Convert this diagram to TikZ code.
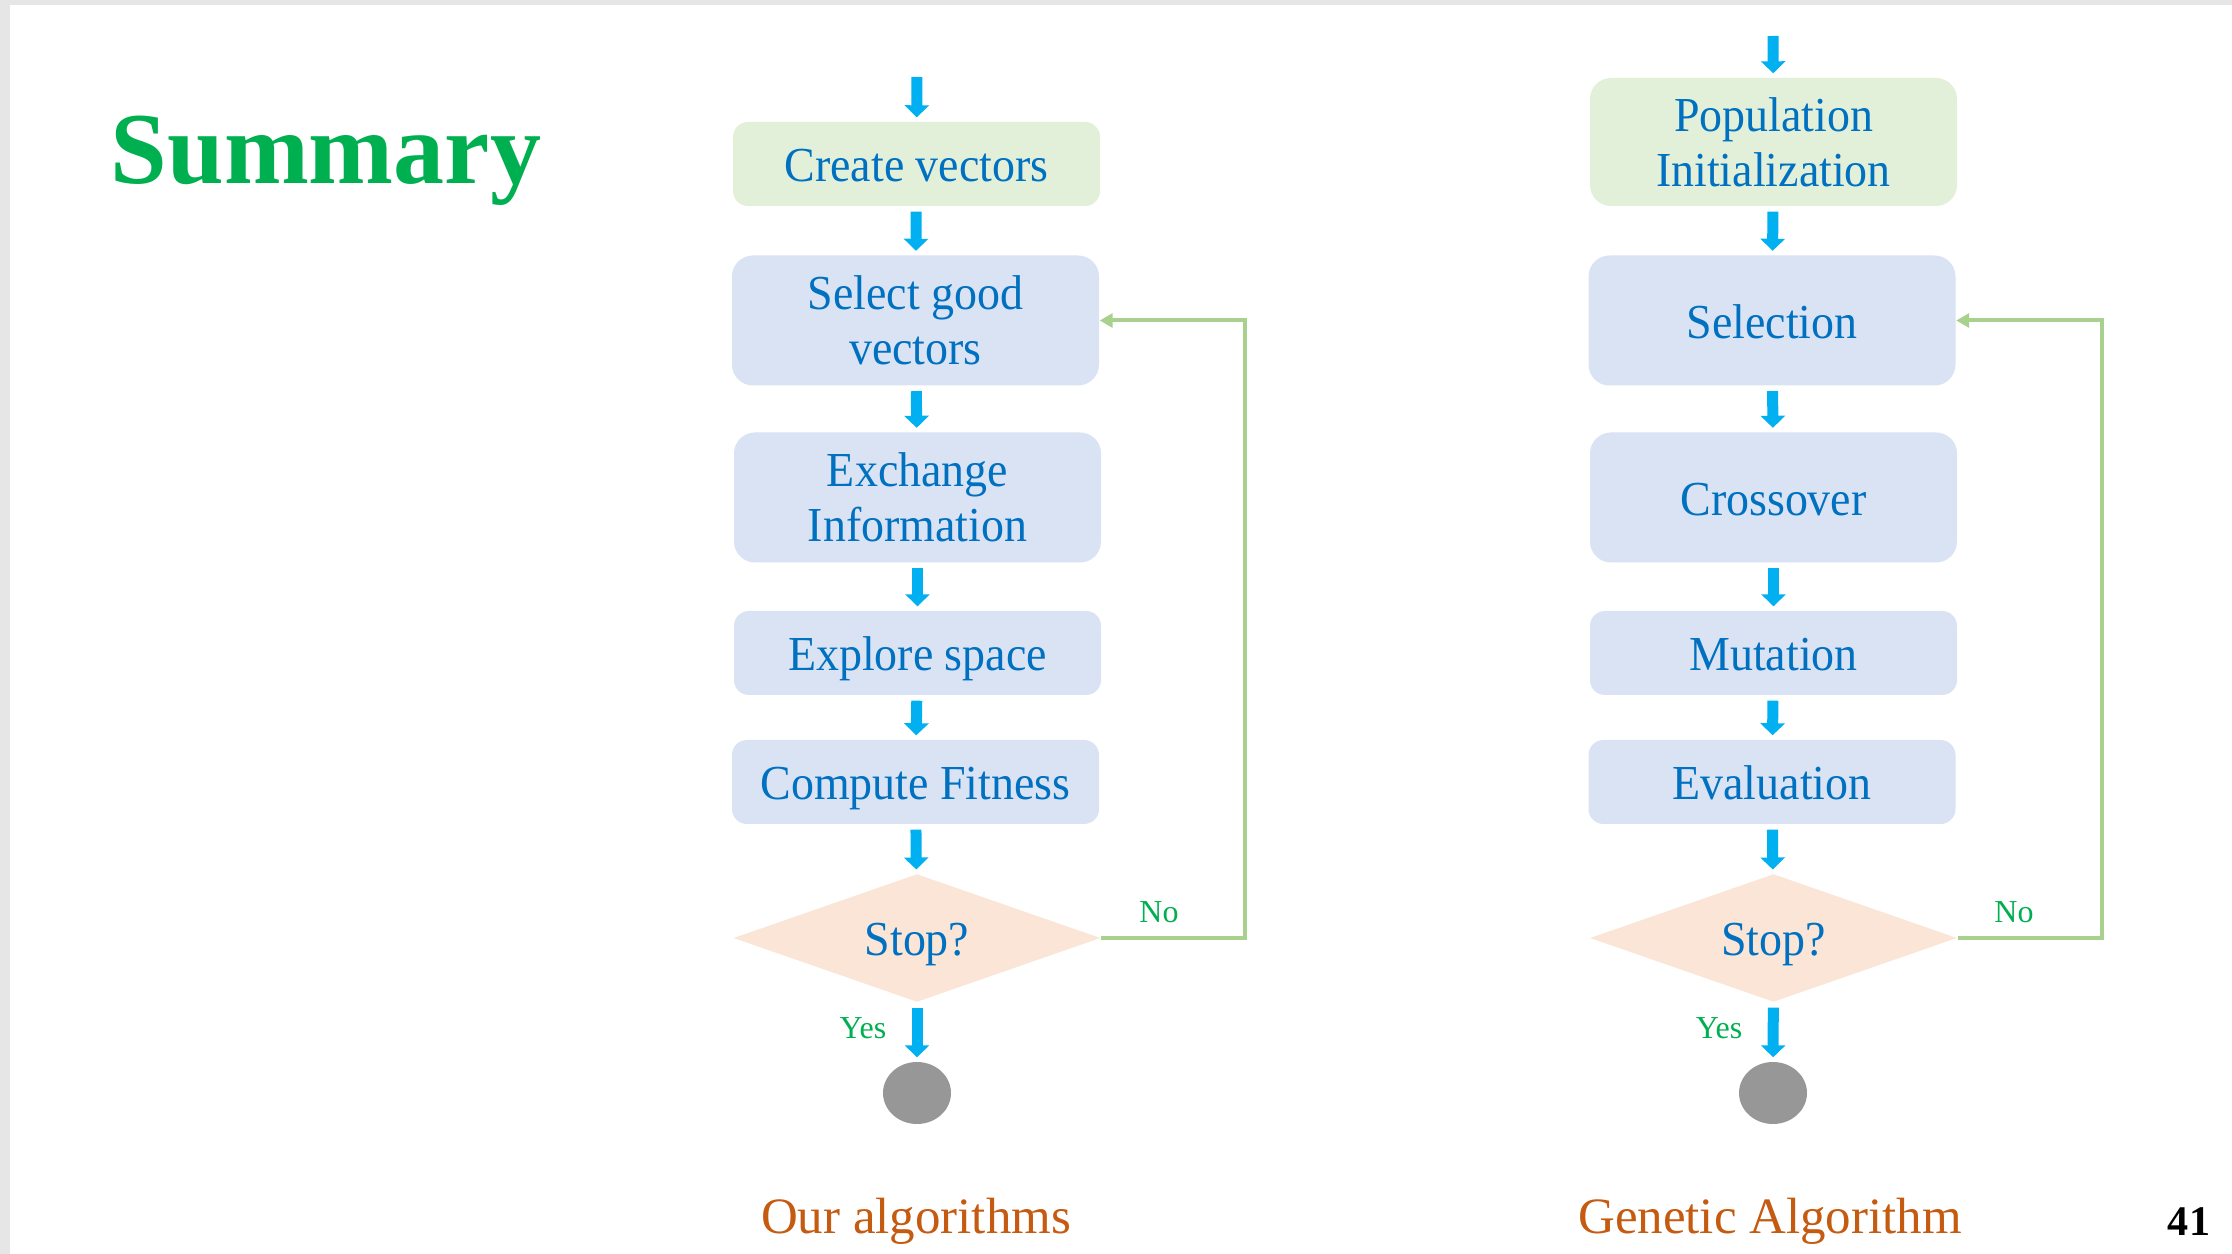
\documentclass[tikz,border=0pt]{standalone}
\usepackage{fontspec}
\setmainfont{Liberation Serif}
\newfontfamily\boxfont[FakeStretch=0.94]{Liberation Serif}
\usetikzlibrary{arrows.meta,shapes.geometric}

\definecolor{stepblue}{HTML}{DAE3F3}
\definecolor{startgreen}{HTML}{E2F0D9}
\definecolor{askorange}{HTML}{FBE5D6}
\definecolor{textblue}{HTML}{0070C0}
\definecolor{flowblue}{HTML}{00B0F0}
\definecolor{backgreen}{HTML}{A9D18E}
\definecolor{labelgreen}{HTML}{00B050}
\definecolor{captionbrown}{HTML}{C55A11}
\definecolor{endgray}{HTML}{979797}
\definecolor{pagegray}{HTML}{E6E6E6}

\begin{document}
\begin{tikzpicture}[
  x=1mm, y=-1mm,
  every node/.style={inner sep=0pt, text=textblue},
  stepbox/.style={rectangle, rounded corners=1.5mm, fill=stepblue, minimum width=36.7mm,
    minimum height=8.4mm, align=center, font=\boxfont\fontsize{13.9}{15.6}\selectfont},
  tallbox/.style={stepbox, rounded corners=2.1mm, minimum height=13mm},
  startbox/.style={tallbox, fill=startgreen},
  oneline/.style={text height=13.2pt, text depth=3pt},
  askbox/.style={diamond, aspect=2.87, fill=askorange, minimum width=36.7mm,
    minimum height=12.8mm, oneline, font=\boxfont\fontsize{13.9}{15.6}\selectfont},
  endbox/.style={ellipse, fill=endgray, minimum width=6.8mm, minimum height=6.2mm},
  flowarrow/.style={draw=flowblue, line width=1.1mm, -{Triangle[width=2.4mm,length=1.2mm]},
    shorten <=0.5mm, shorten >=0.4mm},
  backarrow/.style={draw=backgreen, line width=0.4mm, -{Triangle[width=1.4mm,length=1.3mm]}},
  answer/.style={text=labelgreen, font=\fontsize{9.1}{11}\selectfont},
  caption/.style={text=captionbrown, font=\fontsize{14.5}{17}\selectfont}
]
\fill[pagegray] (0,0) rectangle (223.2,125.4);
\fill[white] (0.96,0.5) rectangle (223.2,125.4);
\useasboundingbox (0,0) rectangle (223.2,125.4);

\node[anchor=base west, text=labelgreen, font=\bfseries\fontsize{29}{34}\selectfont] (title) at (11.0,18.4) {Summary};

\coordinate (inA) at (91.7,7.2);
\node[startbox, oneline, minimum height=8.4mm, rounded corners=1.5mm] (createA) at (91.65,16.4) {Create vectors};
\node[tallbox] (selA) at (91.55,32.05) {Select good\\vectors};
\node[tallbox] (exchA) at (91.75,49.75) {Exchange\\Information};
\node[stepbox, oneline] (explA) at (91.75,65.3) {Explore space};
\node[stepbox, oneline] (fitA) at (91.55,78.2) {Compute Fitness};
\node[askbox] (stopA) at (91.7,93.8) {Stop?};
\node[endbox] (endA) at (91.7,109.3) {};
\node[answer] (noA) at (115.9,91.2) {No};
\node[answer] (yesA) at (86.3,102.8) {Yes};
\node[caption, anchor=base] (capA) at (91.6,123.3) {Our algorithms};

\coordinate (inB) at (177.3,3.1);
\node[startbox, minimum height=12.8mm] (initB) at (177.35,14.2) {Population\\Initialization};
\node[tallbox, oneline] (selB) at (177.2,32.05) {Selection};
\node[tallbox, oneline] (crossB) at (177.35,49.75) {Crossover};
\node[stepbox, oneline] (mutB) at (177.35,65.3) {Mutation};
\node[stepbox, oneline] (evalB) at (177.2,78.2) {Evaluation};
\node[askbox] (stopB) at (177.35,93.8) {Stop?};
\node[endbox] (endB) at (177.3,109.3) {};
\node[answer] (noB) at (201.4,91.2) {No};
\node[answer] (yesB) at (171.9,102.8) {Yes};
\node[caption, anchor=base] (capB) at (177.0,123.3) {Genetic Algorithm};

\node[anchor=base, text=black, font=\bfseries\fontsize{12}{14}\selectfont] (page) at (218.9,123.5) {41};

\draw[flowarrow] (inA) -- (createA);
\draw[flowarrow] (createA) -- (selA);
\draw[flowarrow] (selA) -- (exchA);
\draw[flowarrow] (exchA) -- (explA);
\draw[flowarrow] (explA) -- (fitA);
\draw[flowarrow] (fitA) -- (stopA);
\draw[flowarrow] (stopA) -- (endA);
\draw[backarrow] (stopA.east) -- ++(14.4,0) |- (selA.east);

\draw[flowarrow] (inB) -- (initB);
\draw[flowarrow] (initB) -- (selB);
\draw[flowarrow] (selB) -- (crossB);
\draw[flowarrow] (crossB) -- (mutB);
\draw[flowarrow] (mutB) -- (evalB);
\draw[flowarrow] (evalB) -- (stopB);
\draw[flowarrow] (stopB) -- (endB);
\draw[backarrow] (stopB.east) -- ++(14.4,0) |- (selB.east);
\end{tikzpicture}
\end{document}
